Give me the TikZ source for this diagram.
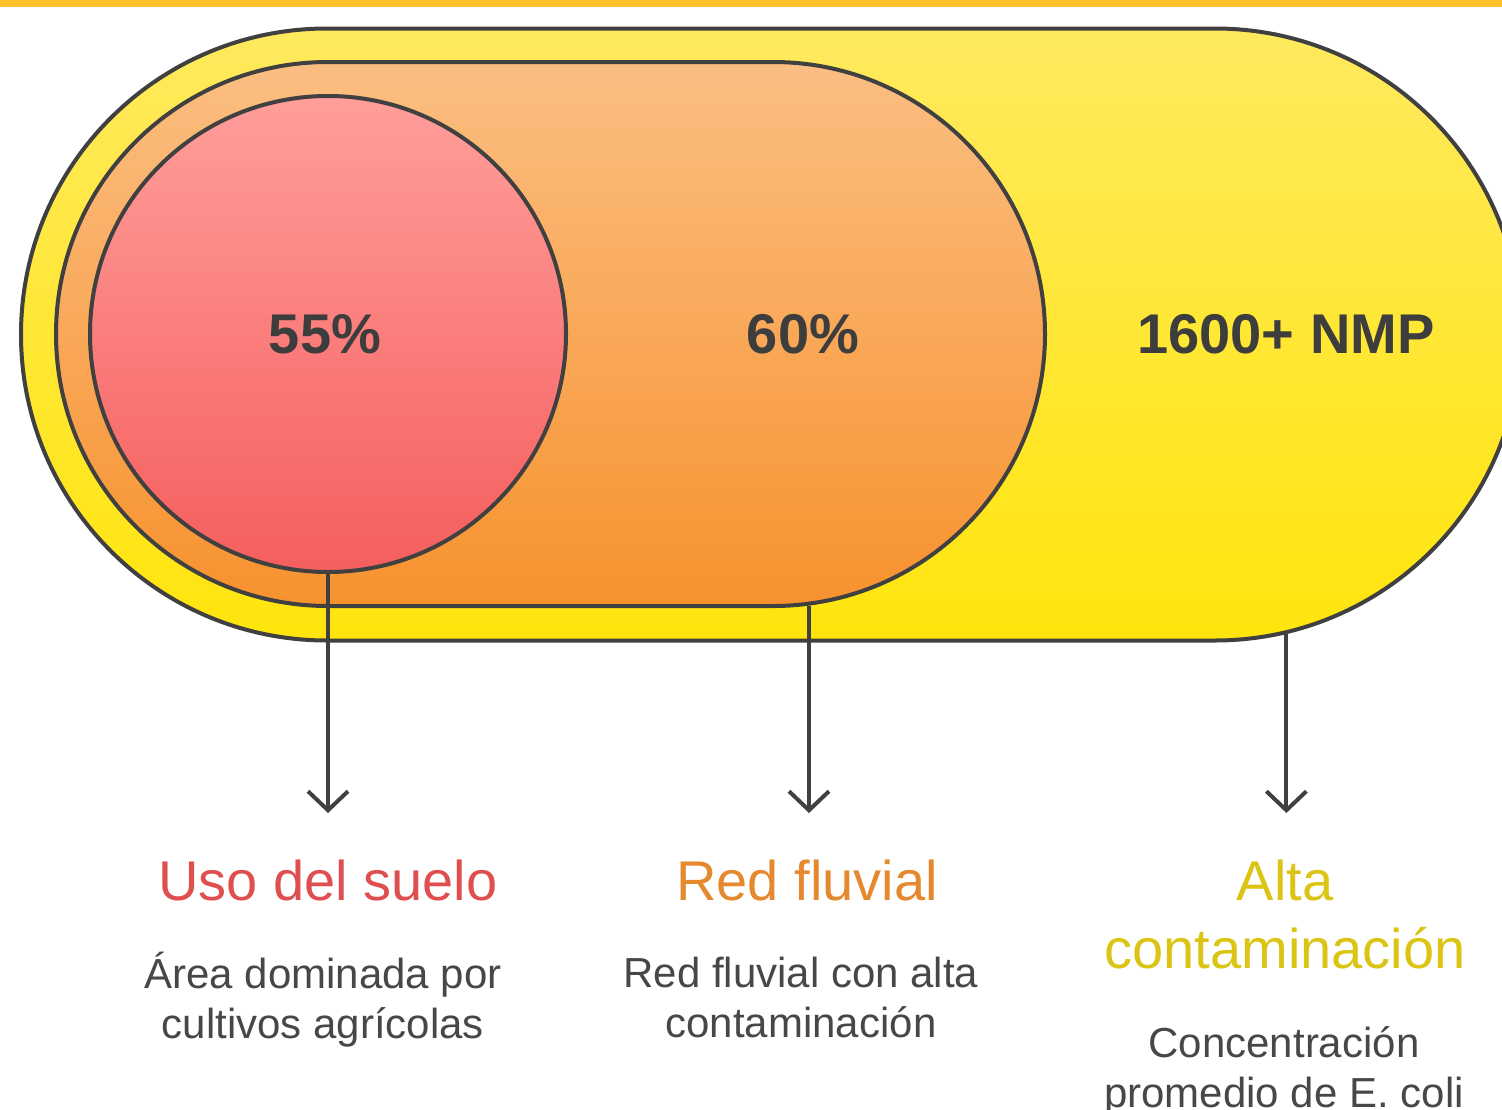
\documentclass[tikz,border=0pt]{standalone}
\usepackage{fontspec}
\setmainfont{Liberation Sans}
\usetikzlibrary{shapes.misc,arrows.meta}
\definecolor{barc}{HTML}{FFC22B}
\definecolor{linec}{HTML}{404040}
\definecolor{yTop}{HTML}{FFE95E}
\definecolor{yBot}{HTML}{FFE50C}
\definecolor{oTop}{HTML}{FBBE82}
\definecolor{oBot}{HTML}{F7922E}
\definecolor{pTop}{HTML}{FF9E9A}
\definecolor{pBot}{HTML}{F55E5E}
\definecolor{numc}{HTML}{3D3D3D}
\definecolor{descc}{HTML}{474747}
\definecolor{redt}{HTML}{E04F4F}
\definecolor{orat}{HTML}{E5892F}
\definecolor{yelt}{HTML}{DCC414}
\tikzset{
  outline/.style={draw=linec, line width=4pt, inner sep=0pt, outer sep=0pt},
  pill/.style={outline, rounded rectangle},
  bignum/.style={font=\fontsize{56}{68}\selectfont\bfseries, text=numc, anchor=base, inner sep=0pt},
  ttl/.style={font=\fontsize{56}{68}\selectfont, anchor=base, align=center, inner sep=0pt},
  desc/.style={font=\fontsize{42}{50}\selectfont, text=descc, anchor=base, align=center, inner sep=0pt},
  conn/.style={draw=linec, line width=4pt, -{Straight Barb[length=19pt,width=40pt]}}
}
\begin{document}
\begin{tikzpicture}[x=1pt,y=-1pt]
\path[use as bounding box] (0,0) rectangle (1502,1109);
\fill[barc] (0,0) rectangle (1502,7);
% shapes
\node[pill, minimum width=1500pt, minimum height=612pt, top color=yTop, bottom color=yBot] (outer) at (771,334.5) {};
\node[pill, minimum width=989pt, minimum height=544pt, top color=oTop, bottom color=oBot] (mid) at (550.5,334) {};
\node[outline, circle, minimum size=476pt, top color=pTop, bottom color=pBot] (inner) at (328,334) {};
% values
\node[bignum] (v1) at (325,353) {55\%};
\node[bignum] (v2) at (803,353) {60\%};
\node[bignum] (v3) at (1286,353) {1600+ NMP};
% arrow ends
\coordinate (t1) at (328,813);
\coordinate (t2) at (809,813);
\draw[conn] (inner.south) -- (t1);
\draw[conn] (mid.south -| t2) -- (t2);
\draw[conn] (outer.-30) -- (outer.-30 |- t1);
% titles (anchor base = last line)
\node[ttl, text=redt] (h1) at (328,900) {Uso del suelo};
\node[ttl, text=orat] (h2) at (807,900) {Red fluvial};
\node[ttl, text=yelt] (h3) at (1285,968) {Alta\\contaminación};
% descriptions
\node[desc] (d1) at (323,1038) {Área dominada por\\cultivos agrícolas};
\node[desc] (d2) at (801,1037) {Red fluvial con alta\\contaminación};
\node[desc] (d3) at (1284,1107) {Concentración\\promedio de E. coli};
\end{tikzpicture}
\end{document}
